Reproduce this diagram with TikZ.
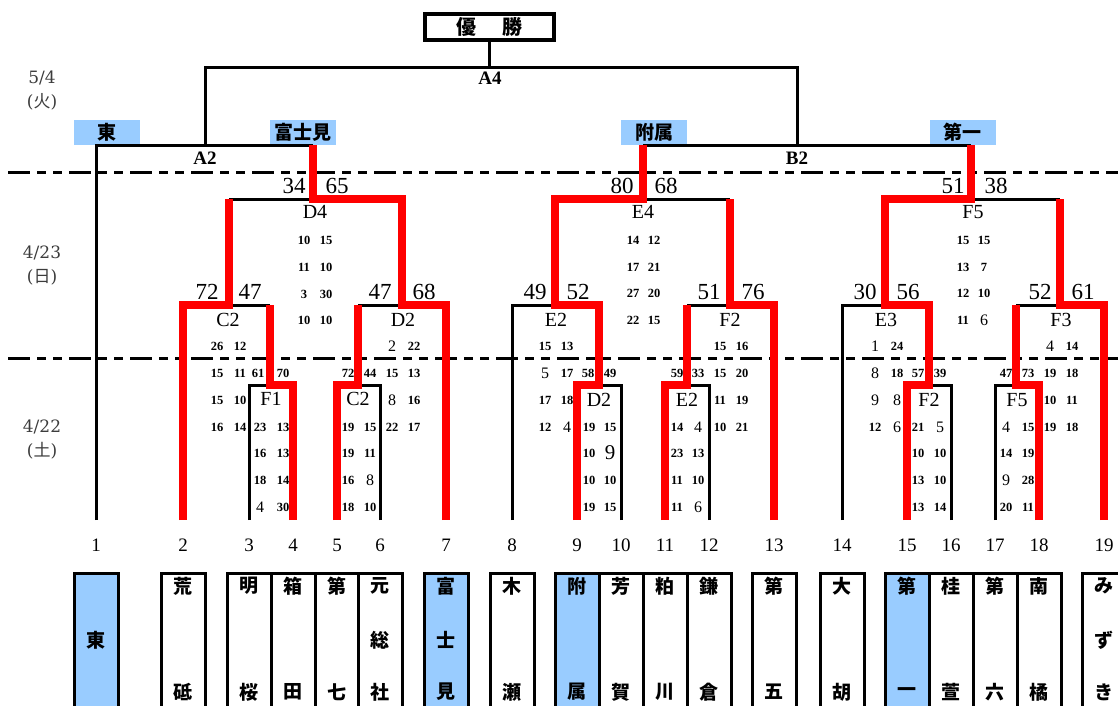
\documentclass[tikz,border=0pt]{standalone}
\usepackage{fontspec}
\newfontfamily\ls{Liberation Serif}
\newfontfamily\dv{DejaVu Serif}
\newfontfamily\jp{Noto Sans CJK JP}
\definecolor{lb}{HTML}{99CCFF}
\definecolor{dg}{HTML}{3C3C3C}
\newcommand{\scp}[6]{\node[sc] (#1a) at (#2,#4) {#5}; \node[sc] (#1b) at (#3,#4) {#6};}
\newcommand{\bd}[1]{{\mdseries\fontsize{16}{16}\selectfont #1}}
\begin{document}
\begin{tikzpicture}[x=1pt,y=-1pt,
 blk/.style={line width=3pt,line join=miter},
 win/.style={line width=8pt,red,line join=miter},
 dd/.style={line width=3pt,dash pattern=on 22pt off 7pt on 9pt off 7pt on 9pt off 7pt},
 sc/.style={font=\ls\bfseries\fontsize{12.5}{12.5}\selectfont,inner sep=0pt},
 pts/.style={font=\ls\fontsize{23}{23}\selectfont,inner sep=0pt},
 ml/.style={font=\ls\fontsize{20}{20}\selectfont,inner sep=0pt},
 rl/.style={font=\ls\bfseries\fontsize{19}{19}\selectfont,inner sep=0pt},
 nm/.style={font=\ls\fontsize{19}{19}\selectfont,inner sep=0pt},
 jt/.style={font=\jp\bfseries\fontsize{19}{19}\selectfont,inner sep=0pt},
 lab/.style={fill=lb,minimum width=66pt,minimum height=25pt,inner sep=0pt,font=\jp\bfseries\fontsize{19}{19}\selectfont},
 dt/.style={font=\dv\fontsize{17}{17}\selectfont,text=dg,inner sep=0pt},
 tbox/.style={draw,line width=3pt,fill=white,minimum width=44pt,minimum height=140pt,anchor=north,inner sep=0pt}
]
\useasboundingbox (0,0) rectangle (1118,705);

% team line bottoms
\coordinate (t1) at (96,520);  \coordinate (t2) at (183,520);  \coordinate (t3) at (249,520);
\coordinate (t4) at (293,520); \coordinate (t5) at (337,520);  \coordinate (t6) at (380,520);
\coordinate (t7) at (446,520); \coordinate (t8) at (512,520);  \coordinate (t9) at (577,520);
\coordinate (t10) at (621,520); \coordinate (t11) at (665,520); \coordinate (t12) at (709,520);
\coordinate (t13) at (774,520); \coordinate (t14) at (842,520); \coordinate (t15) at (907,520);
\coordinate (t16) at (951,520); \coordinate (t17) at (995,520); \coordinate (t18) at (1039,520);
\coordinate (t19) at (1104,520);
% match junctions
\coordinate (jF1) at (270,385);  \coordinate (jC2b) at (358,385);
\coordinate (jC2a) at (229,305); \coordinate (jD2a) at (402,305);
\coordinate (jD4) at (313,199);  \coordinate (jA2) at (205,145);
\coordinate (jD2b) at (599,385); \coordinate (jE2b) at (687,385);
\coordinate (jE2a) at (555,305); \coordinate (jF2a) at (730,305);
\coordinate (jE4) at (643,199);
\coordinate (jF2b) at (929,385); \coordinate (jF5b) at (1016,385);
\coordinate (jE3) at (885,305);  \coordinate (jF3) at (1060,305);
\coordinate (jF5) at (971,199);  \coordinate (jB2) at (797,145);
\coordinate (jtop) at (489.5,67);
\coordinate (dl1a) at (8,172); \coordinate (dl1b) at (1118,172);
\coordinate (dl2a) at (8,358); \coordinate (dl2b) at (1118,358);

% top labels
\node[lab] (l1) at (106.5,132.5) {東};
\node[lab] (l7) at (303,132.5) {富士見};
\node[lab] (l9) at (654,132.5) {附属};
\node[lab] (l15) at (962.5,132.5) {第一};

% title
\node[draw,line width=4pt,minimum width=129pt,minimum height=26pt,inner sep=0pt,font=\jp\bfseries\fontsize{20}{20}\selectfont] (win) at (489.5,26.5) {優\hspace{26pt}勝};

% dash-dot day separators
\draw[dd] (dl1a) -- (dl1b);
\draw[dd] (dl2a) -- (dl2b);

% black bracket lines
\draw[blk] (win.south) -- (jtop);
\draw[blk] (t1) |- (jD4 |- jA2);
\draw[blk] (jA2) -- (jA2 |- jtop) -| (jB2);
\draw[blk] (jE4 |- jB2) -- (jF5 |- jB2);
\draw[blk] (jC2a |- jD4) -- (jD2a |- jD4);
\draw[blk] (t2 |- jC2a) -- (jF1 |- jC2a);
\draw[blk] (jC2b |- jD2a) -- (t7 |- jD2a);
\draw[blk] (t3) |- (t4 |- jF1);
\draw[blk] (t6) |- (t5 |- jC2b);
\draw[blk] (t8) |- (jD2b |- jE2a);
\draw[blk] (jE2a |- jE4) -- (jF2a |- jE4);
\draw[blk] (t10) |- (t9 |- jD2b);
\draw[blk] (t12) |- (t11 |- jE2b);
\draw[blk] (jE2b |- jF2a) -- (t13 |- jF2a);
\draw[blk] (t14) |- (jF2b |- jE3);
\draw[blk] (jE3 |- jF5) -- (jF3 |- jF5);
\draw[blk] (t16) |- (t15 |- jF2b);
\draw[blk] (t17) |- (t18 |- jF5b);
\draw[blk] (jF5b |- jF3) -- (t19 |- jF3);

% red winner paths
\draw[win] (t7) |- (jD2a) |- (jD4) -- (jD4 |- jA2);
\draw[win] (t2) |- (jC2a) -- (jC2a |- jD4);
\draw[win] (t4) |- (jF1) -- (jF1 |- jC2a);
\draw[win] (t5) |- (jC2b) -- (jC2b |- jD2a);
\draw[win] (t9) |- (jD2b) |- (jE2a) |- (jE4) -- (jE4 |- jB2);
\draw[win] (t11) |- (jE2b) -- (jE2b |- jF2a);
\draw[win] (t13) |- (jF2a) -- (jF2a |- jE4);
\draw[win] (t15) |- (jF2b) |- (jE3) |- (jF5) -- (jF5 |- jB2);
\draw[win] (t18) |- (jF5b) -- (jF5b |- jF3);
\draw[win] (t19) |- (jF3) -- (jF3 |- jF5);

% dates
\node[dt] (d1a) at (42,78) {5/4};
\node[dt] (d1b) at (42,102) {({\jp 火})};
\node[dt] (d2a) at (42,253) {4/23};
\node[dt] (d2b) at (42,277) {({\jp 日})};
\node[dt] (d3a) at (42,427) {4/22};
\node[dt] (d3b) at (42,451) {({\jp 土})};

% round labels
\node[rl] (rA4) at (490,78) {A4};
\node[rl] (rA2) at (205,158) {A2};
\node[rl] (rB2) at (797,158) {B2};

% match labels
\node[ml] (mD4) at (315,212) {D4};
\node[ml] (mC2a) at (228,320) {C2};
\node[ml] (mD2a) at (403,320) {D2};
\node[ml] (mF1) at (271,399) {F1};
\node[ml] (mC2b) at (358,399) {C2};
\node[ml] (mE4) at (643,212) {E4};
\node[ml] (mE2a) at (556,320) {E2};
\node[ml] (mF2a) at (730,320) {F2};
\node[ml] (mD2b) at (599,400) {D2};
\node[ml] (mE2b) at (687,400) {E2};
\node[ml] (mF5) at (973,212) {F5};
\node[ml] (mE3) at (886,320) {E3};
\node[ml] (mF3) at (1061,320) {F3};
\node[ml] (mF2b) at (929,400) {F2};
\node[ml] (mF5b) at (1017,400) {F5};

% match totals
\node[pts] (p1) at (294,186) {34};  \node[pts] (p2) at (337,186) {65};
\node[pts] (p3) at (207,292) {72};  \node[pts] (p4) at (250,292) {47};
\node[pts] (p5) at (380,292) {47};  \node[pts] (p6) at (424,292) {68};
\node[pts] (p7) at (622,186) {80};  \node[pts] (p8) at (666,186) {68};
\node[pts] (p9) at (535,292) {49};  \node[pts] (p10) at (578,292) {52};
\node[pts] (p11) at (709,292) {51}; \node[pts] (p12) at (753,292) {76};
\node[pts] (p13) at (953,186) {51}; \node[pts] (p14) at (996,186) {38};
\node[pts] (p15) at (865,292) {30}; \node[pts] (p16) at (908,292) {56};
\node[pts] (p17) at (1040,292) {52}; \node[pts] (p18) at (1083,292) {61};

% quarter scores
\scp{d4q1}{304}{326}{240}{10}{15}
\scp{d4q2}{304}{326}{267}{11}{10}
\scp{d4q3}{304}{326}{294}{3}{30}
\scp{d4q4}{304}{326}{320}{10}{10}
\scp{c2aq1}{217}{240}{346}{26}{12}
\scp{c2aq2}{217}{240}{373}{15}{11}
\scp{c2aq3}{217}{240}{400}{15}{10}
\scp{c2aq4}{217}{240}{427}{16}{14}
\scp{f1t}{258}{283}{373}{61}{70}
\scp{f1q1}{260}{283}{427}{23}{13}
\scp{f1q2}{260}{283}{453}{16}{13}
\scp{f1q3}{260}{283}{480}{18}{14}
\scp{f1q4}{260}{283}{507}{\bd{4}}{30}
\scp{c2bt}{348}{370}{373}{72}{44}
\scp{c2bq1}{348}{370}{427}{19}{15}
\scp{c2bq2}{348}{370}{453}{19}{11}
\scp{c2bq3}{348}{370}{480}{16}{\bd{8}}
\scp{c2bq4}{348}{370}{507}{18}{10}
\scp{d2aq1}{392}{414}{346}{\bd{2}}{22}
\scp{d2aq2}{392}{414}{373}{15}{13}
\scp{d2aq3}{392}{414}{400}{\bd{8}}{16}
\scp{d2aq4}{392}{414}{427}{22}{17}
\scp{e4q1}{633}{654}{240}{14}{12}
\scp{e4q2}{633}{654}{267}{17}{21}
\scp{e4q3}{633}{654}{293}{27}{20}
\scp{e4q4}{633}{654}{320}{22}{15}
\scp{e2aq1}{545}{567}{346}{15}{13}
\scp{e2aq2}{545}{567}{373}{\bd{5}}{17}
\scp{e2aq3}{545}{567}{400}{17}{18}
\scp{e2aq4}{545}{567}{427}{12}{\bd{4}}
\scp{d2bt}{588}{610}{373}{58}{49}
\scp{d2bq1}{589}{610}{427}{19}{15}
\scp{d2bq2}{589}{610}{453}{10}{{\mdseries\fontsize{21}{21}\selectfont 9}}
\scp{d2bq3}{589}{610}{480}{10}{10}
\scp{d2bq4}{589}{610}{507}{19}{15}
\scp{e2bt}{677}{698}{373}{59}{33}
\scp{e2bq1}{677}{698}{427}{14}{\bd{4}}
\scp{e2bq2}{677}{698}{453}{23}{13}
\scp{e2bq3}{677}{698}{480}{11}{10}
\scp{e2bq4}{677}{698}{507}{11}{\bd{6}}
\scp{f2aq1}{720}{742}{346}{15}{16}
\scp{f2aq2}{720}{742}{373}{15}{20}
\scp{f2aq3}{720}{742}{400}{11}{19}
\scp{f2aq4}{720}{742}{427}{10}{21}
\scp{f5q1}{963}{984}{240}{15}{15}
\scp{f5q2}{963}{984}{267}{13}{7}
\scp{f5q3}{963}{984}{293}{12}{10}
\scp{f5q4}{963}{984}{320}{11}{\bd{6}}
\scp{e3q1}{875}{897}{346}{\bd{1}}{24}
\scp{e3q2}{875}{897}{373}{\bd{8}}{18}
\scp{e3q3}{875}{897}{400}{\bd{9}}{\bd{8}}
\scp{e3q4}{875}{897}{427}{12}{\bd{6}}
\scp{f2bt}{918}{940}{373}{57}{39}
\scp{f2bq1}{918}{940}{427}{21}{\bd{5}}
\scp{f2bq2}{918}{940}{453}{10}{10}
\scp{f2bq3}{918}{940}{480}{13}{10}
\scp{f2bq4}{918}{940}{507}{13}{14}
\scp{f5bt}{1006}{1028}{373}{47}{73}
\scp{f5bq1}{1006}{1028}{427}{\bd{4}}{15}
\scp{f5bq2}{1006}{1028}{453}{14}{19}
\scp{f5bq3}{1006}{1028}{480}{\bd{9}}{28}
\scp{f5bq4}{1006}{1028}{507}{20}{11}
\scp{f3q1}{1050}{1072}{346}{\bd{4}}{14}
\scp{f3q2}{1050}{1072}{373}{19}{18}
\scp{f3q3}{1050}{1072}{400}{10}{11}
\scp{f3q4}{1050}{1072}{427}{19}{18}

% team numbers
\foreach \i/\x in {1/96,2/183,3/249,4/293,5/337,6/380,7/446,8/512,9/577,10/621,11/665,12/709,13/774,14/842,15/907,16/951,17/995,18/1039,19/1104}
  \node[nm] (num\i) at (\x,545) {\i};

% team boxes
\node[tbox,fill=lb] (b1) at (96,572) {};
\foreach \i/\x in {2/183,3/249,4/293,5/337,6/380,8/512,10/621,11/665,12/709,13/774,14/842,16/951,17/995,18/1039,19/1104}
  \node[tbox] (b\i) at (\x,572) {};
\node[tbox,fill=lb] (b7) at (446,572) {};
\node[tbox,fill=lb] (b9) at (577,572) {};
\node[tbox,fill=lb] (b15) at (907,572) {};

% team names
\node[jt] (n1b) at (96,640) {東};
\node[jt] (n2a) at (183,586) {荒}; \node[jt] (n2c) at (183,692) {砥};
\node[jt] (n3a) at (249,586) {明}; \node[jt] (n3c) at (249,692) {桜};
\node[jt] (n4a) at (293,586) {箱}; \node[jt] (n4c) at (293,692) {田};
\node[jt] (n5a) at (337,586) {第}; \node[jt] (n5c) at (337,692) {七};
\node[jt] (n6a) at (380,586) {元}; \node[jt] (n6b) at (380,640) {総}; \node[jt] (n6c) at (380,692) {社};
\node[jt] (n7a) at (446,586) {富}; \node[jt] (n7b) at (446,640) {士}; \node[jt] (n7c) at (446,692) {見};
\node[jt] (n8a) at (512,586) {木}; \node[jt] (n8c) at (512,692) {瀬};
\node[jt] (n9a) at (577,586) {附}; \node[jt] (n9c) at (577,692) {属};
\node[jt] (n10a) at (621,586) {芳}; \node[jt] (n10c) at (621,692) {賀};
\node[jt] (n11a) at (665,586) {粕}; \node[jt] (n11c) at (665,692) {川};
\node[jt] (n12a) at (709,586) {鎌}; \node[jt] (n12c) at (709,692) {倉};
\node[jt] (n13a) at (774,586) {第}; \node[jt] (n13c) at (774,692) {五};
\node[jt] (n14a) at (842,586) {大}; \node[jt] (n14c) at (842,692) {胡};
\node[jt] (n15a) at (907,586) {第}; \node[jt] (n15c) at (907,692) {一};
\node[jt] (n16a) at (951,586) {桂}; \node[jt] (n16c) at (951,692) {萱};
\node[jt] (n17a) at (995,586) {第}; \node[jt] (n17c) at (995,692) {六};
\node[jt] (n18a) at (1039,586) {南}; \node[jt] (n18c) at (1039,692) {橘};
\node[jt] (n19a) at (1104,586) {み}; \node[jt] (n19b) at (1104,640) {ず}; \node[jt] (n19c) at (1104,692) {き};
\end{tikzpicture}
\end{document}
